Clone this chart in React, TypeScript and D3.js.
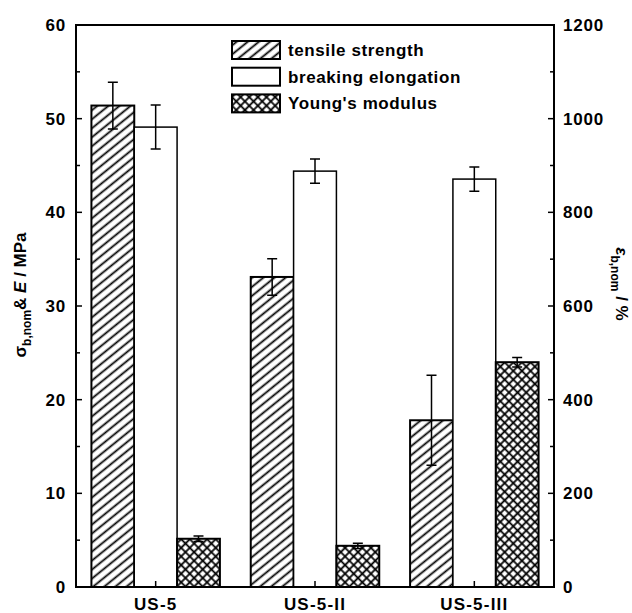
import * as d3 from "d3";
import { useEffect, useRef } from "react";

const categories = ["US-5", "US-5-II", "US-5-III"];
const series = ["tensile strength", "breaking elongation", "Young's modulus"];
// tensile strength, MPa (left axis)
const tensile = [51.4, 33.1, 17.8];
const tensileErr = [2.5, 1.95, 4.8];
// breaking elongation, % (right axis)
const elongation = [982, 888, 871];
const elongationErr = [47, 26, 26];
// Young's modulus, MPa (left axis)
const modulus = [5.15, 4.4, 24.0];
const modulusErr = [0.3, 0.28, 0.5];

const leftTicks = [0, 10, 20, 30, 40, 50, 60];
const rightTicks = [0, 200, 400, 600, 800, 1000, 1200];

export default function App() {
  const ref = useRef<SVGSVGElement>(null);
  const width = 632;
  const height = 613;

  useEffect(() => {
    const m = { left: 76, right: 554, top: 25, bottom: 587 };
    const svg = d3.select(ref.current);
    svg.selectAll("*").remove();

    const font = "'Liberation Sans', Arial, sans-serif";
    const defs = svg.append("defs");

    const hatch = defs
      .append("pattern")
      .attr("id", "hatch")
      .attr("patternUnits", "userSpaceOnUse")
      .attr("width", 10)
      .attr("height", 7)
      .attr("patternTransform", "rotate(-39)");
    hatch
      .append("line")
      .attr("x1", -1)
      .attr("x2", 11)
      .attr("y1", 3.5)
      .attr("y2", 3.5)
      .attr("stroke", "#000")
      .attr("stroke-width", 1.8);

    const cross = defs
      .append("pattern")
      .attr("id", "cross")
      .attr("patternUnits", "userSpaceOnUse")
      .attr("width", 6.1)
      .attr("height", 6.1)
      .attr("patternTransform", "rotate(45)");
    cross
      .append("path")
      .attr("d", "M-1,3.05H7.1M3.05,-1V7.1")
      .attr("stroke", "#000")
      .attr("stroke-width", 1.8);

    const x = d3.scaleBand().domain(categories).range([m.left, m.right]);
    const inner = d3
      .scaleBand()
      .domain(series)
      .range([0, x.bandwidth()])
      .paddingOuter(0.36);
    const yL = d3.scaleLinear().domain([0, 60]).range([m.bottom, m.top]);
    const yR = d3.scaleLinear().domain([0, 1200]).range([m.bottom, m.top]);

    const fills = ["url(#hatch)", "#fff", "url(#cross)"];
    const values = [tensile, elongation, modulus];
    const errs = [tensileErr, elongationErr, modulusErr];
    const scales = [yL, yR, yL];

    series.forEach((s, si) => {
      const y = scales[si];
      const g = svg.append("g");
      g.selectAll("rect")
        .data(categories)
        .enter()
        .append("rect")
        .attr("x", (c) => x(c)! + inner(s)!)
        .attr("width", inner.bandwidth())
        .attr("y", (c, i) => y(values[si][i]))
        .attr("height", (c, i) => m.bottom - y(values[si][i]))
        .attr("fill", fills[si])
        .attr("stroke", "#000")
        .attr("stroke-width", si === 1 ? 1.5 : 2);

      categories.forEach((c, i) => {
        const cx = x(c)! + inner(s)! + inner.bandwidth() / 2;
        const top = y(values[si][i] + errs[si][i]);
        const bot = y(values[si][i] - errs[si][i]);
        g.append("path")
          .attr("d", `M${cx},${top}V${bot}M${cx - 5},${top}H${cx + 5}M${cx - 5},${bot}H${cx + 5}`)
          .attr("stroke", "#000")
          .attr("stroke-width", 1.5)
          .attr("fill", "none");
      });
    });

    // frame
    svg
      .append("rect")
      .attr("x", m.left)
      .attr("y", m.top)
      .attr("width", m.right - m.left)
      .attr("height", m.bottom - m.top)
      .attr("fill", "none")
      .attr("stroke", "#000")
      .attr("stroke-width", 2);

    const ticks = svg.append("g").attr("stroke", "#000").attr("stroke-width", 1.5);
    d3.range(0, 61, 5).forEach((v) => {
      const len = v % 10 === 0 ? 6 : 4;
      ticks.append("line").attr("x1", m.left).attr("x2", m.left + len).attr("y1", yL(v)).attr("y2", yL(v));
    });
    d3.range(0, 1201, 100).forEach((v) => {
      const len = v % 200 === 0 ? 6 : 4;
      ticks.append("line").attr("x1", m.right).attr("x2", m.right - len).attr("y1", yR(v)).attr("y2", yR(v));
    });
    categories.forEach((c) => {
      const cx = x(c)! + x.bandwidth() / 2;
      ticks.append("line").attr("x1", cx).attr("x2", cx).attr("y1", m.bottom).attr("y2", m.bottom - 6);
    });

    const labels = svg
      .append("g")
      .attr("font-family", font)
      .attr("font-weight", "bold")
      .attr("font-size", 17)
      .attr("fill", "#000");

    leftTicks.forEach((v) => {
      labels
        .append("text")
        .attr("x", m.left - 10)
        .attr("y", yL(v))
        .attr("dy", "0.36em")
        .attr("text-anchor", "end")
        .attr("letter-spacing", 0.8)
        .text(v);
    });
    rightTicks.forEach((v) => {
      labels
        .append("text")
        .attr("x", m.right + 9)
        .attr("y", yR(v))
        .attr("dy", "0.36em")
        .attr("letter-spacing", 0.8)
        .text(v);
    });
    categories.forEach((c) => {
      labels
        .append("text")
        .attr("x", x(c)! + x.bandwidth() / 2)
        .attr("y", 610)
        .attr("text-anchor", "middle")
        .attr("letter-spacing", 1.2)
        .text(c);
    });

    // axis titles
    const lt = labels
      .append("text")
      .attr("transform", "translate(26,295) rotate(-90)")
      .attr("text-anchor", "middle");
    lt.append("tspan").text("σ");
    lt.append("tspan").attr("font-size", 12).attr("dy", 5).text("b,nom");
    lt.append("tspan").attr("dy", -5).text("& ");
    lt.append("tspan").attr("font-style", "italic").text("E");
    lt.append("tspan").text(" / MPa");

    const rt = labels
      .append("text")
      .attr("transform", "translate(616,284) rotate(90)")
      .attr("text-anchor", "middle");
    rt.append("tspan").attr("font-style", "italic").text("ε");
    rt.append("tspan").attr("font-size", 12).attr("dy", 5).text("b,nom");
    rt.append("tspan").attr("dy", -5).text(" / %");

    // legend
    const legend = svg.append("g").attr("transform", "translate(232,41)");
    series.forEach((s, i) => {
      legend
        .append("rect")
        .attr("x", 0)
        .attr("y", i * 26.7)
        .attr("width", 48)
        .attr("height", 18)
        .attr("fill", fills[i])
        .attr("stroke", "#000")
        .attr("stroke-width", 2);
      legend
        .append("text")
        .attr("x", 56)
        .attr("y", i * 26.7 + 15)
        .attr("font-family", font)
        .attr("font-weight", "bold")
        .attr("font-size", 17)
        .attr("letter-spacing", 0.6)
        .text(s);
    });
  }, []);

  return (
    <svg
      ref={ref}
      width={width}
      height={height}
      style={{ position: "absolute", left: 0, top: 0, background: "#fff" }}
    ></svg>
  );
}
